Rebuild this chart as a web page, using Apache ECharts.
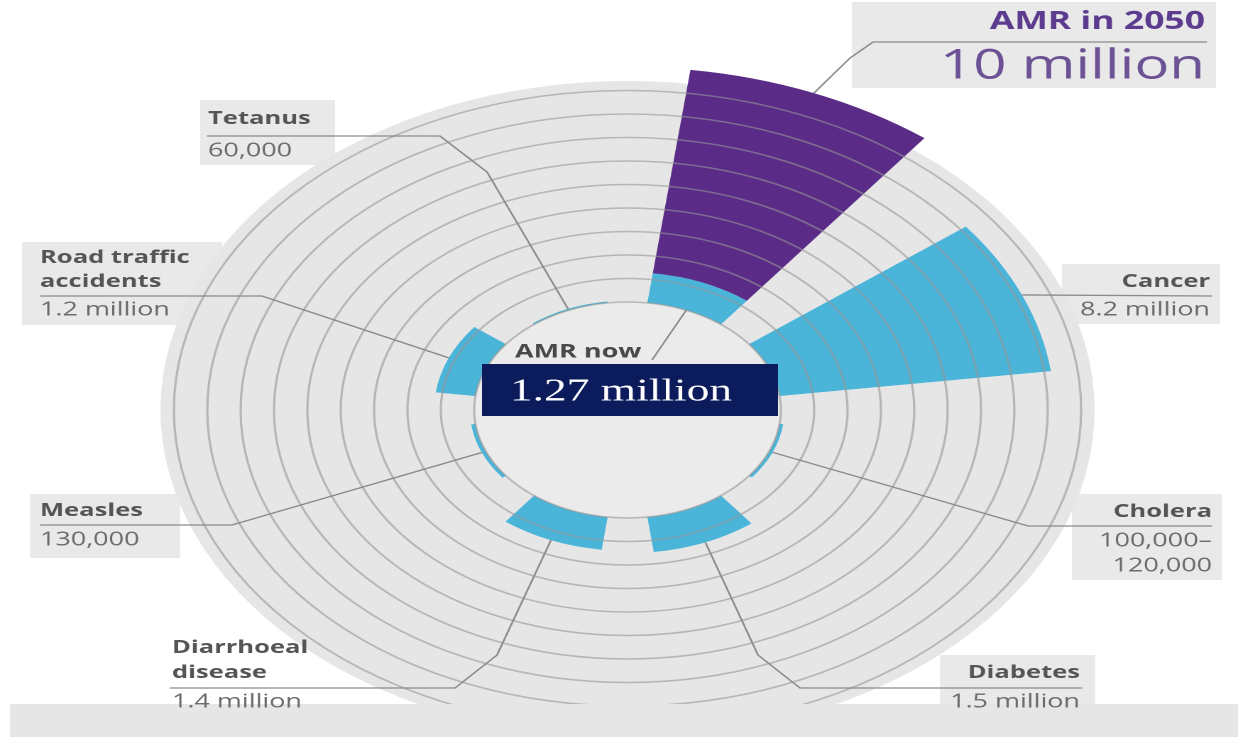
<!DOCTYPE html>
<html><head><meta charset="utf-8">
<script src="https://cdn.jsdelivr.net/npm/echarts@6/dist/echarts.min.js"></script>
<style>
html,body{margin:0;padding:0;background:#fff;overflow:hidden;width:1238px;height:737px;}
#wrap{position:absolute;left:0;top:0;width:872px;height:737px;transform:scaleX(1.41972);transform-origin:0 0;}
#chart{width:872px;height:737px;}
</style></head><body><div id="wrap"><div id="chart"></div></div>
<script>
// ---- data (deaths per year, millions) ----
const categories = ['AMR', 'Cancer', 'Cholera', 'Diabetes', 'Diarrhoeal disease', 'Measles', 'Road traffic accidents', 'Tetanus'];
const deathsNow = [1.27, 8.2, 0.11, 1.5, 1.4, 0.13, 1.2, 0.06];
const amr2050 = [10, null, null, null, null, null, null, null];
const scaleMax = 10;      // bar scale (millions)
const ringMax = 9;        // last drawn ring
const ringStep = 1;

// label texts
const labelNames = ['AMR in 2050', 'Cancer', 'Cholera', 'Diabetes', ['Diarrhoeal', 'disease'], 'Measles', ['Road traffic', 'accidents'], 'Tetanus'];
const labelValues = ['10 million', '8.2 million', ['100,000–', '120,000'], '1.5 million', '1.4 million', '130,000', '1.2 million', '60,000'];
const nowLabel = 'AMR now';
const nowValueLabel = '1.27 million';

// ---- layout ----
const S = 1238 / 872;               // horizontal stretch of the whole picture
const X = v => v / S;               // reference x -> chart x
const CX = X(627.5), CY = 410, R0 = 108, UNIT = 23.5;

const BLUE = '#4ab5d9', PURPLE = '#5b2c87';
const NAME_FONT = 'bold 18px "Open Sans"';
const VAL_FONT = '19px "Open Sans"';
const NAME_C = '#555557', VAL_C = '#6b6b6d';

const purpleSeg = amr2050.map((t, i) => t == null ? '-' : t - deathsNow[i]);
const hidden = {axisLine: {show: false}, axisTick: {show: false}, axisLabel: {show: false}};

const chart = echarts.init(document.getElementById('chart'), null, {renderer: 'canvas', devicePixelRatio: 2});
chart.setOption({
  animation: false,
  backgroundColor: '#ffffff',
  polar: [
    {center: [CX, CY], radius: [R0, R0 + ringMax * UNIT]},
    {center: [CX, CY], radius: [R0, R0 + scaleMax * UNIT]}
  ],
  angleAxis: [
    Object.assign({type: 'category', data: categories, startAngle: 90, clockwise: true, polarIndex: 0, z: 0, splitLine: {show: false}}, hidden),
    Object.assign({type: 'category', data: categories, startAngle: 90, clockwise: true, polarIndex: 1, z: 0, splitLine: {show: false}}, hidden)
  ],
  radiusAxis: [
    Object.assign({type: 'value', min: 0, max: ringMax, interval: ringStep, polarIndex: 0, z: 4,
      splitLine: {show: true, lineStyle: {color: 'rgba(150,150,150,0.6)', width: 1.6}}}, hidden),
    Object.assign({type: 'value', min: 0, max: scaleMax, interval: ringStep, polarIndex: 1, z: 0,
      splitLine: {show: false}}, hidden)
  ],
  series: [
    {type: 'pie', silent: true, z: 0, center: [CX, CY], radius: [0, 329], label: {show: false}, labelLine: {show: false},
     itemStyle: {color: '#e6e6e6'}, data: [{value: 1, name: 'disk'}]},
    {type: 'pie', silent: true, z: 1, center: [CX, CY], radius: [0, R0], label: {show: false}, labelLine: {show: false},
     itemStyle: {color: '#ebebeb'}, data: [{value: 1, name: 'inner'}]},
    {type: 'bar', coordinateSystem: 'polar', polarIndex: 1, stack: 'd', name: 'Now', data: deathsNow, z: 2,
     barCategoryGap: '33%', itemStyle: {color: BLUE}},
    {type: 'bar', coordinateSystem: 'polar', polarIndex: 1, stack: 'd', name: 'AMR in 2050', data: purpleSeg, z: 2,
     barCategoryGap: '33%', itemStyle: {color: PURPLE}}
  ]
});

// ---- annotations ----
function P(v, cat) { return chart.convertToPixel({polarIndex: 1}, [v, cat]); }
const leaders = [
  {cat: 0, v: 10, pts: [[850, 58], [873, 42], [1207, 42]]},
  {cat: 0, v: 0, pts: [[652, 360]]},
  {cat: 1, v: 8.2, pts: [[1212, 296]]},
  {cat: 2, v: 0.11, pts: [[1028, 526], [1212, 526]]},
  {cat: 3, v: 1.5, pts: [[758, 655], [800, 688], [1082, 688]]},
  {cat: 4, v: 1.4, pts: [[497, 655], [455, 688], [170, 688]]},
  {cat: 5, v: 0.13, pts: [[232, 525], [40, 525]]},
  {cat: 6, v: 1.2, pts: [[262, 296], [40, 296]]},
  {cat: 7, v: 0.06, pts: [[487, 172], [440, 136], [207, 136]]}
];
const els = [];
// gray label patches
[[852, 2, 364, 86], [200, 100, 135, 65], [22, 242, 200, 83], [1062, 264, 158, 60], [30, 494, 150, 64], [1072, 494, 150, 86], [940, 655, 155, 50]]
  .forEach(r => els.push({type: 'rect', silent: true, z: -1, shape: {x: X(r[0]), y: r[1], width: X(r[2]), height: r[3]}, style: {fill: '#e9e9e9'}}));
// bottom band
els.push({type: 'rect', silent: true, z: 9, shape: {x: X(10), y: 704, width: 872, height: 40}, style: {fill: '#e6e6e6'}});
leaders.forEach(l => {
  const a = P(l.v, l.cat);
  const pts = [a].concat(l.pts.map(p => [X(p[0]), p[1]]));
  els.push({type: 'polyline', silent: true, z: 10, shape: {points: pts}, style: {stroke: '#8a8a8c', lineWidth: 1.3, fill: null}});
});
function txt(s, rx, y, align, font, color) {
  els.push({type: 'text', silent: true, z: 11, style: {text: s, x: X(rx), y: y, font: font, fill: color,
    textAlign: align, align: align, textVerticalAlign: 'middle', verticalAlign: 'middle'}});
}
// AMR 2050
txt(labelNames[0], 1205, 22, 'right', 'bold 25px "Open Sans"', '#5d3c8f');
txt(labelValues[0], 1205, 67, 'right', '41px "Open Sans"', '#6c5294');
// Cancer
txt(labelNames[1], 1210, 282, 'right', NAME_FONT, NAME_C);
txt(labelValues[1], 1210, 310, 'right', VAL_FONT, VAL_C);
// Cholera
txt(labelNames[2], 1212, 512, 'right', NAME_FONT, NAME_C);
txt(labelValues[2][0], 1212, 541, 'right', VAL_FONT, VAL_C);
txt(labelValues[2][1], 1212, 566, 'right', VAL_FONT, VAL_C);
// Diabetes
txt(labelNames[3], 1080, 673, 'right', NAME_FONT, NAME_C);
txt(labelValues[3], 1080, 702, 'right', VAL_FONT, VAL_C);
// Diarrhoeal
txt(labelNames[4][0], 172, 648, 'left', NAME_FONT, NAME_C);
txt(labelNames[4][1], 172, 673, 'left', NAME_FONT, NAME_C);
txt(labelValues[4], 172, 702, 'left', VAL_FONT, VAL_C);
// Measles
txt(labelNames[5], 40, 511, 'left', NAME_FONT, NAME_C);
txt(labelValues[5], 40, 540, 'left', VAL_FONT, VAL_C);
// Road traffic
txt(labelNames[6][0], 40, 258, 'left', NAME_FONT, NAME_C);
txt(labelNames[6][1], 40, 282, 'left', NAME_FONT, NAME_C);
txt(labelValues[6], 40, 310, 'left', VAL_FONT, VAL_C);
// Tetanus
txt(labelNames[7], 208, 119, 'left', NAME_FONT, NAME_C);
txt(labelValues[7], 208, 151, 'left', VAL_FONT, VAL_C);
// AMR now box
els.push({type: 'rect', silent: true, z: 11, shape: {x: X(482), y: 364, width: X(296), height: 52}, style: {fill: '#0c1b5c'}});
txt(nowValueLabel, 621, 392, 'center', '32px "Liberation Serif"', '#ffffff');
txt(nowLabel, 515, 352, 'left', 'bold 19px "Open Sans"', '#48484a');

chart.setOption({graphic: {elements: els}});
</script></body></html>
